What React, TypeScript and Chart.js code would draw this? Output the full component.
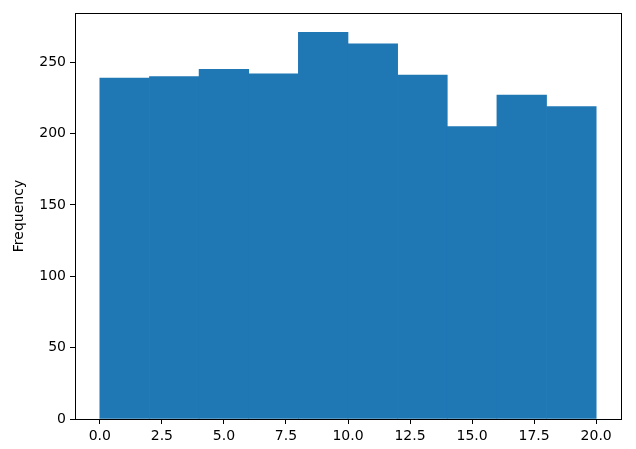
import React, { useEffect, useRef } from "react";
import { Chart, registerables } from "chart.js";

Chart.register(...registerables);

const binEdges = [0, 2, 4, 6, 8, 10, 12, 14, 16, 18, 20];
const frequencies = [239, 240, 245, 242, 271, 263, 241, 205, 227, 219];
const xTickValues = [0, 2.5, 5, 7.5, 10, 12.5, 15, 17.5, 20];
const yTickValues = [0, 50, 100, 150, 200, 250];

const FONT = "'DejaVu Sans', sans-serif";

const boxPlugin = {
  id: "box",
  afterDraw(chart: any) {
    const { ctx, chartArea } = chart;
    ctx.save();
    ctx.strokeStyle = "#000";
    ctx.lineWidth = 1;
    ctx.strokeRect(
      Math.round(chartArea.left) + 0.5,
      Math.round(chartArea.top) + 0.5,
      Math.round(chartArea.right - chartArea.left),
      Math.round(chartArea.bottom - chartArea.top)
    );
    ctx.restore();
  },
};

export default function App() {
  const ref = useRef<HTMLCanvasElement | null>(null);
  useEffect(() => {
    document.body.style.margin = "0";
    const data = frequencies.map((f, i) => ({
      x: (binEdges[i] + binEdges[i + 1]) / 2,
      y: f,
    }));
    const chart = new Chart(ref.current as HTMLCanvasElement, {
      type: "bar",
      data: {
        datasets: [
          {
            data,
            backgroundColor: "#1f77b4",
            borderColor: "#1f77b4",
            borderWidth: 0,
            barPercentage: 1,
            categoryPercentage: 1,
          } as any,
        ],
      },
      options: {
        animation: false,
        responsive: false,
        layout: { padding: { left: 0, right: 15, top: 13, bottom: 0 } },
        plugins: { legend: { display: false }, tooltip: { enabled: false } },
        scales: {
          x: {
            type: "linear",
            min: -1,
            max: 21,
            offset: false,
            afterBuildTicks: (s: any) => {
              s.ticks = xTickValues.map((v) => ({ value: v }));
            },
            afterFit: (s: any) => {
              s.height = 30;
            },
            grid: {
              display: true,
              offset: false,
              drawOnChartArea: false,
              drawTicks: true,
              tickLength: 5,
              color: "#000",
            },
            border: { display: true, color: "#000", width: 1 },
            ticks: {
              color: "#000",
              padding: 4,
              maxRotation: 0,
              autoSkip: false,
              font: { family: FONT, size: 14 },
              callback: (v: any) => Number(v).toFixed(1),
            },
          },
          y: {
            type: "linear",
            min: 0,
            max: 284.55,
            afterBuildTicks: (s: any) => {
              s.ticks = yTickValues.map((v) => ({ value: v }));
            },
            afterFit: (s: any) => {
              s.width = 75;
            },
            grid: {
              display: true,
              drawOnChartArea: false,
              drawTicks: true,
              tickLength: 5,
              color: "#000",
            },
            border: { display: true, color: "#000", width: 1 },
            ticks: {
              color: "#000",
              padding: 4,
              autoSkip: false,
              font: { family: FONT, size: 14 },
            },
            title: {
              display: true,
              text: "Frequency",
              color: "#000",
              font: { family: FONT, size: 14 },
              padding: { top: 11, bottom: 0 },
            },
          },
        },
      },
      plugins: [boxPlugin],
    } as any);
    return () => chart.destroy();
  }, []);
  return (
    <div style={{ position: "absolute", left: 0, top: 0, width: 636, height: 449 }}>
      <canvas ref={ref} width={636} height={449} style={{ width: 636, height: 449 }} />
    </div>
  );
}
